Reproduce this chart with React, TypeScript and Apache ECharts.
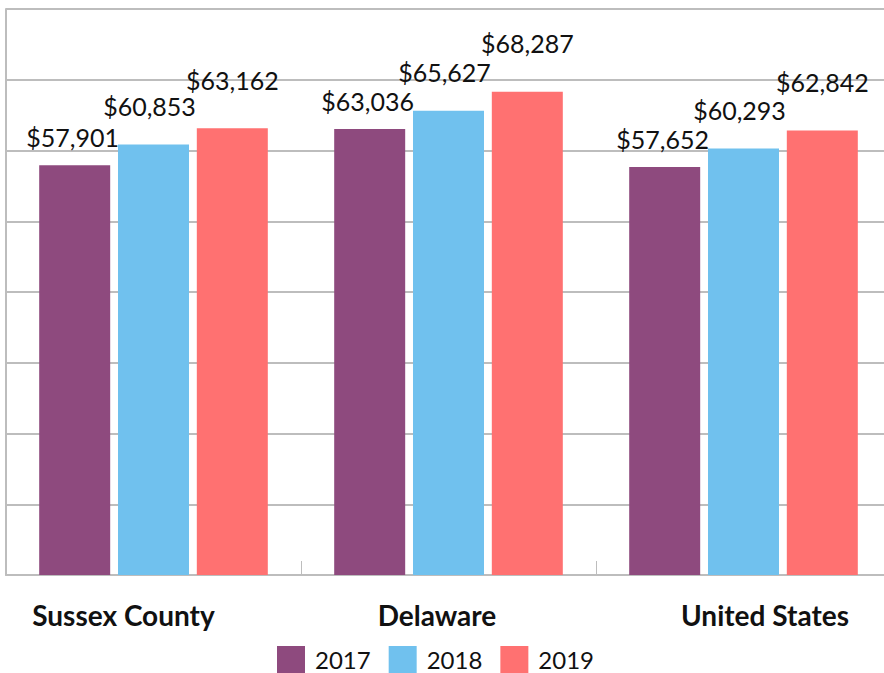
import React, { useEffect, useRef } from "react";
import * as echarts from "echarts";

const categories = ["Sussex County", "Delaware", "United States"];
const years = ["2017", "2018", "2019"];
const values2017 = [57901, 63036, 57652];
const values2018 = [60853, 65627, 60293];
const values2019 = [63162, 68287, 62842];
const colors = ["#8E4A7E", "#70C1EE", "#FF7171"];

export default function App() {
  const ref = useRef<HTMLDivElement>(null);
  useEffect(() => {
    if (!ref.current) return;
    const chart = echarts.init(ref.current, null, { renderer: "svg" });
    const fmt = (p: any) => "$" + Number(p.value).toLocaleString("en-US");
    const seriesData = [values2017, values2018, values2019];
    const distances = [16, 26, 36];
    const offsets = [-2, -4, 0];
    const catPads = [
      [0, 60, 0, 0],
      [0, 23, 0, 0],
      [0, 0, 0, 43],
    ];
    chart.setOption({
      animation: false,
      grid: { left: 6, top: 9, width: 885, bottom: 98, containLabel: false },
      legend: {
        left: 277,
        top: 646,
        padding: 0,
        itemWidth: 28,
        itemHeight: 27,
        itemGap: 18,
        icon: "rect",
        textStyle: { fontFamily: "Lato", fontSize: 24, lineHeight: 24, color: "#111", padding: [0, 0, 0, 5] },
        data: years,
      },
      xAxis: {
        type: "category",
        data: categories.map((c, i) => ({ value: c, textStyle: { padding: catPads[i] } })),
        axisLine: { show: true, lineStyle: { color: "#bdbdbd", width: 2 } },
        axisTick: { show: true, inside: true, length: 14, lineStyle: { color: "#bdbdbd", width: 1 } },
        axisLabel: {
          interval: 0,
          margin: 26,
          fontFamily: "Lato",
          fontWeight: "bold",
          fontSize: 28,
          color: "#111",
        },
      },
      yAxis: {
        type: "value",
        min: 0,
        max: 80000,
        interval: 10000,
        axisLine: { show: true, lineStyle: { color: "#bdbdbd", width: 2 } },
        axisTick: { show: false },
        axisLabel: { show: false },
        splitLine: { show: true, lineStyle: { color: "#bdbdbd", width: 2 } },
      },
      series: years.map((y, i) => ({
        name: y,
        type: "bar",
        data: seriesData[i],
        barWidth: 71,
        barGap: "11%",
        itemStyle: { color: colors[i] },
        label: {
          show: true,
          position: "top",
          distance: distances[i],
          offset: [offsets[i], 0],
          formatter: fmt,
          fontFamily: "Lato",
          fontSize: 25,
          color: "#111",
        },
      })),
    });
    return () => chart.dispose();
  }, []);
  return (
    <div style={{ width: 884, height: 673, position: "absolute", left: 0, top: 0, overflow: "hidden" }}>
      <div ref={ref} style={{ width: 900, height: 673, position: "absolute", left: 0, top: 0 }} />
    </div>
  );
}
